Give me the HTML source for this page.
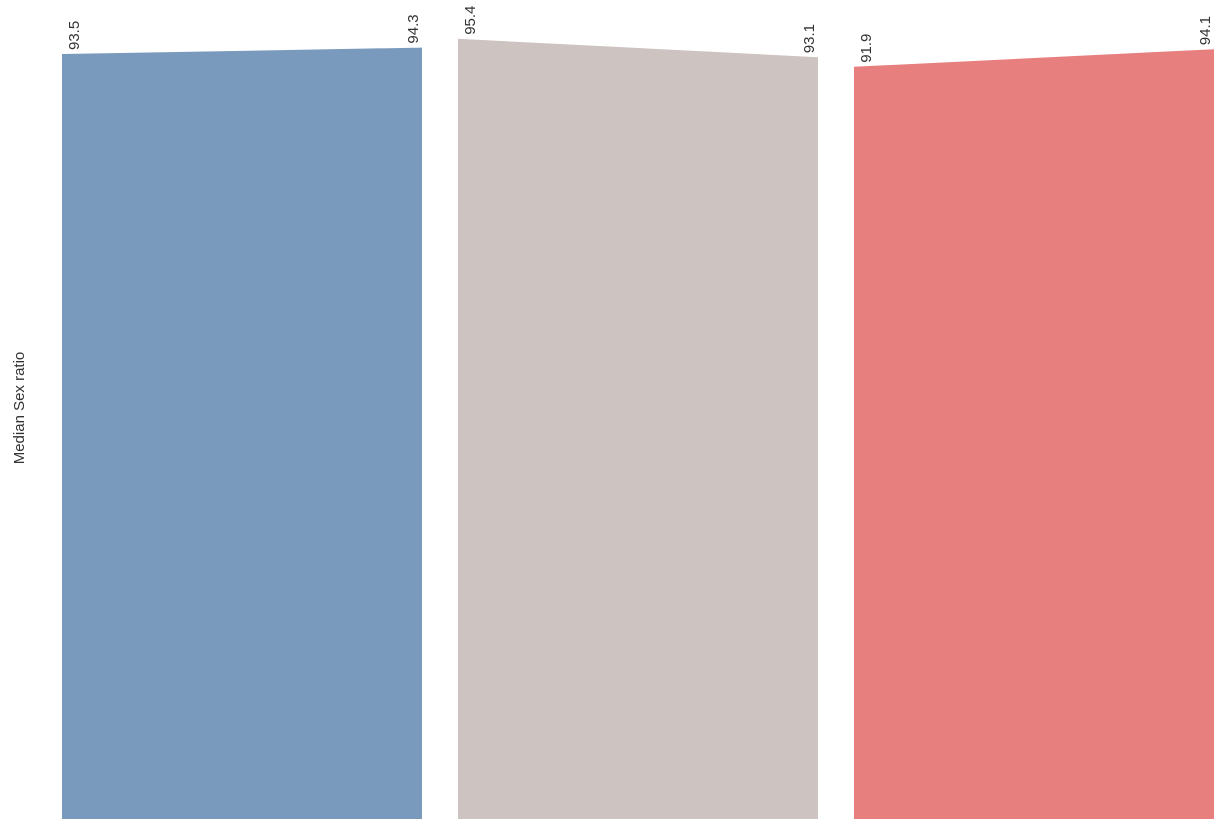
<!DOCTYPE html>
<html><head><meta charset="utf-8"><style>
body{margin:0;background:#fff;}
svg{display:block;font-family:"Liberation Sans",sans-serif;}
</style></head><body>
<svg id="chart" width="1232" height="819">
<text x="24" y="408" font-size="15" fill="#333" text-anchor="middle" transform="rotate(-90 24 408)">Median Sex ratio</text>
</svg>
<script>
const categories=["Group A","Group B","Group C"];
const startValues=[93.5,95.4,91.9];
const endValues=[94.3,93.1,94.1];
const colors=["#7a9abd","#cdc3c0","#e77f7f"];
const svg=document.getElementById('chart');
const NS="http://www.w3.org/2000/svg";
function y(v){return 54-(v-93.5)*8;}
function px(i){return 62+i*396;}
const W=360,B=819;
categories.forEach((c,i)=>{
  const x0=px(i),x1=x0+W,y0=y(startValues[i]),y1=y(endValues[i]);
  const p=document.createElementNS(NS,'polygon');
  p.setAttribute('points',`${x0},${B} ${x0},${y0} ${x1},${y1} ${x1},${B}`);
  p.setAttribute('fill',colors[i]);
  
  
  svg.appendChild(p);
  [[x0+17,y0-4,startValues[i],'start'],[x1-4,y1-4,endValues[i],'end']].forEach(([lx,ly,v,k])=>{
    const t=document.createElementNS(NS,'text');
    t.setAttribute('x',lx);t.setAttribute('y',ly);
    t.setAttribute('font-size','15');t.setAttribute('fill','#333');
    t.setAttribute('transform',`rotate(-90 ${lx} ${ly})`);
    t.textContent=v.toFixed(1);
    
    
    svg.appendChild(t);
  });
});
</script>
</body></html>
